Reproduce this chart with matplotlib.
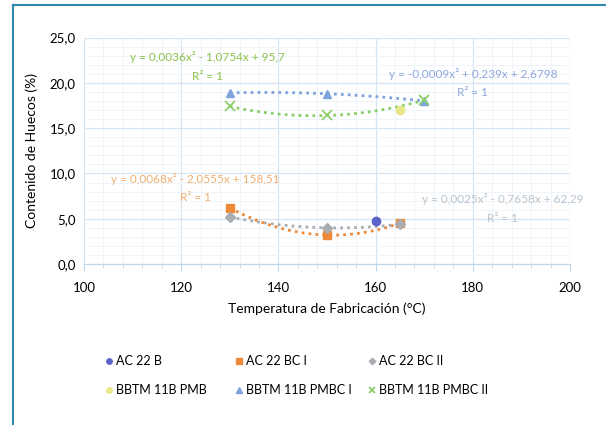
import numpy as np
import matplotlib
matplotlib.use("Agg")
from matplotlib import pyplot as plt
from matplotlib.ticker import MultipleLocator

plt.rcParams['font.family'] = ['Lato', 'DejaVu Sans']

# datos
ac22b_x = [160]
ac22b_y = [4.7]
ac22bc1_x = [130, 150, 165]
ac22bc1_y = [6.2, 3.2, 4.5]
ac22bc2_x = [130, 150, 165]
ac22bc2_y = [5.2, 4.0, 4.4]
bbtm_pmb_x = [165]
bbtm_pmb_y = [17.0]
bbtm_pmbc1_x = [130, 150, 170]
bbtm_pmbc1_y = [18.9, 18.8, 18.0]
bbtm_pmbc2_x = [130, 150, 170]
bbtm_pmbc2_y = [17.4, 16.4, 18.1]

labels = ["AC 22 B", "AC 22 BC I", "AC 22 BC II",
          "BBTM 11B PMB", "BBTM 11B PMBC I", "BBTM 11B PMBC II"]

eq_pmbc2 = "y = 0,0036x² - 1,0754x + 95,7\nR² = 1"
eq_pmbc1 = "y = -0,0009x² + 0,239x + 2,6798\nR² = 1"
eq_bc1 = "y = 0,0068x² - 2,0555x + 158,51\nR² = 1"
eq_bc2 = "y = 0,0025x² - 0,7658x + 62,29\nR² = 1"

fig = plt.figure(figsize=(6.06, 4.25), dpi=100)
ax = fig.add_axes([0.1386, 0.3788, 0.802, 0.5327])

# marco del cuadro
fig.add_artist(plt.Line2D([0.0215, 0.0215], [0, 0.988], color='#2f87ae', lw=1.5))
fig.add_artist(plt.Line2D([0.0215, 1.0], [0.988, 0.988], color='#2f87ae', lw=1.5))

series = [
    (ac22b_x, ac22b_y, 'o', '#5b63c9', False),
    (ac22bc1_x, ac22bc1_y, 's', '#ed8a3a', True),
    (ac22bc2_x, ac22bc2_y, 'D', '#a9adb2', True),
    (bbtm_pmb_x, bbtm_pmb_y, 'o', '#e8e88a', False),
    (bbtm_pmbc1_x, bbtm_pmbc1_y, '^', '#7fa3dc', True),
    (bbtm_pmbc2_x, bbtm_pmbc2_y, 'x', '#8ccf6a', True),
]

handles = []
for (xs, ys, mk, col, trend), lab in zip(series, labels):
    if mk == 'x':
        h, = ax.plot(xs, ys, linestyle='none', marker=mk, color=col, ms=7, mew=1.3, label=lab, zorder=4)
    else:
        ms = 6 if mk != 'D' else 5
        h, = ax.plot(xs, ys, linestyle='none', marker=mk, color=col, ms=ms, label=lab, zorder=4)
    handles.append(h)
    if trend:
        c = np.polyfit(xs, ys, 2)
        xx = np.linspace(min(xs), max(xs), 100)
        ax.plot(xx, np.polyval(c, xx), linestyle=(0, (1, 1.5)), lw=2, color=col, zorder=3)

# etiquetas de las ecuaciones
eq_kw = dict(fontsize=8.5, ha='center', va='center', multialignment='center', linespacing=1.85)
ax.text(125.5, 21.8, eq_pmbc2, color='#8cc24a', **eq_kw)
ax.text(180.0, 20.0, eq_pmbc1, color='#8fa6de', **eq_kw)
ax.text(123.0, 8.4, eq_bc1, color='#f0b070', **eq_kw)
ax.text(186.2, 6.1, eq_bc2, color='#b9c4cc', **eq_kw)

ax.set_xlim(100, 200)
ax.set_ylim(0, 25)
ax.xaxis.set_major_locator(MultipleLocator(20))
ax.xaxis.set_minor_locator(MultipleLocator(4))
ax.yaxis.set_minor_locator(MultipleLocator(1))
yt = np.arange(0, 26, 5)
ax.set_yticks(yt)
ax.set_yticklabels([f"{v:.1f}".replace('.', ',') for v in yt])

ax.grid(True, which='major', color='#d5e5f3', lw=0.9)
ax.grid(True, which='minor', color='#eef4fa', lw=0.7)
ax.set_axisbelow(True)
for s in ['top', 'right', 'left']:
    ax.spines[s].set_visible(False)
ax.spines['bottom'].set_color('#bcd6ee')
ax.tick_params(axis='y', which='both', length=0, labelsize=9.5, pad=6)
ax.tick_params(axis='x', which='both', direction='out', color='#bcd6ee', labelsize=9.5, pad=8)
ax.tick_params(axis='x', which='minor', length=3)
ax.tick_params(axis='x', which='major', length=5)

ax.set_xlabel("Temperatura de Fabricación (°C)", fontsize=10, labelpad=6)
ax.set_ylabel("Contenido de Huecos (%)", fontsize=10, labelpad=8)

# leyenda: tres columnas de ancho fijo, filas en orden de lectura
col_x = [105, 235, 368]
for i, x0 in enumerate(col_x):
    fig.legend(handles=[handles[i], handles[i + 3]], loc='upper left',
               bbox_to_anchor=(x0 / 606, 1 - 355 / 425), frameon=False,
               fontsize=9, handlelength=0.6, handletextpad=0.3, borderpad=0,
               borderaxespad=0, labelspacing=1.4, markerscale=0.65)

fig.savefig("out.png", dpi=100)
